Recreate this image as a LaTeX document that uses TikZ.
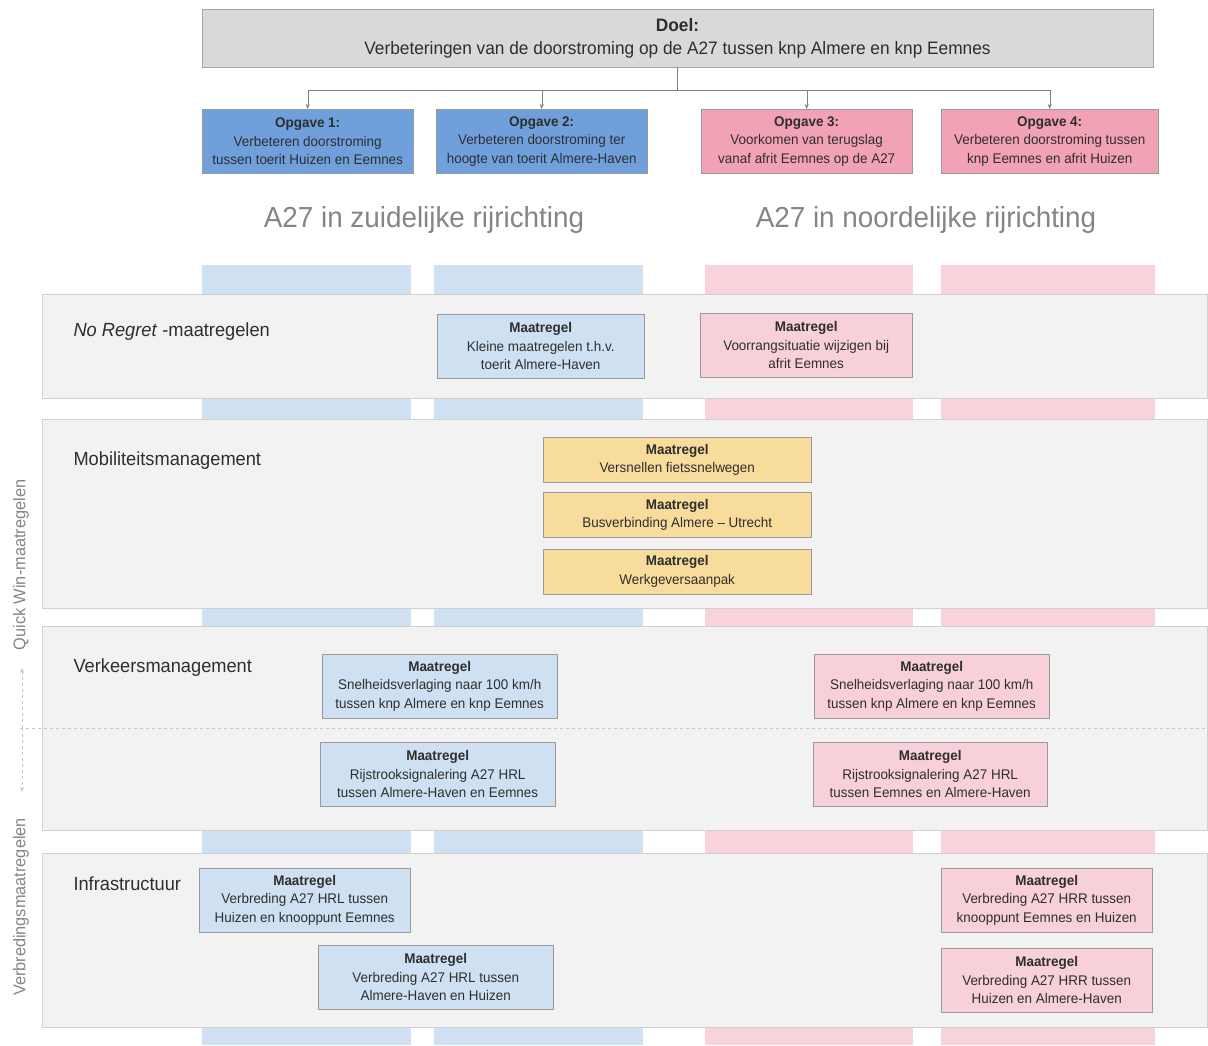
\documentclass[tikz,border=0pt]{standalone}
\usepackage{fontspec}
\setmainfont{Liberation Sans}[FakeStretch=0.96]
\usetikzlibrary{arrows.meta, positioning}

\definecolor{doelfill}{HTML}{D9D9D9}
\definecolor{doelline}{HTML}{A6A6A6}
\definecolor{opblue}{HTML}{6FA0DC}
\definecolor{oppink}{HTML}{F2A2B5}
\definecolor{stripeblue}{HTML}{CFE0F2}
\definecolor{stripepink}{HTML}{F8D3DC}
\definecolor{mblue}{HTML}{CFE0F3}
\definecolor{mpink}{HTML}{F8D0DA}
\definecolor{myellow}{HTML}{F8DC9C}
\definecolor{bandfill}{HTML}{F2F2F2}
\definecolor{bandline}{HTML}{D0D0D0}
\definecolor{boxline}{HTML}{9A9A9A}
\definecolor{textdark}{HTML}{2E2E2E}
\definecolor{headgray}{HTML}{858585}

\begin{document}
\begin{tikzpicture}[x=1pt, y=-1pt,
    doel/.style={draw=doelline, fill=doelfill, minimum width=951pt, minimum height=58pt,
                 align=center, inner sep=0pt, text=textdark, font=\fontsize{18}{23}\selectfont},
    opgave/.style={draw=boxline, minimum width=211pt, minimum height=64pt, anchor=north west,
                   align=center, inner sep=0pt, text=textdark, font=\fontsize{14}{18.5}\selectfont},
    maatregel/.style={draw=boxline, minimum width=#1, minimum height=64pt, anchor=north west,
                      align=center, inner sep=0pt, text=textdark, font=\fontsize{14}{18.5}\selectfont},
    maatregel/.default=211pt,
    mobbox/.style={maatregel=268pt, fill=myellow, minimum height=45pt},
    band/.style={draw=bandline, fill=bandfill},
    bandlabel/.style={anchor=west, text=textdark, font=\fontsize{19}{22}\selectfont},
    heading/.style={text=headgray, font=\fontsize{29}{32}\selectfont},
    axislabel/.style={rotate=90, text=headgray, font=\fontsize{17}{20}\selectfont},
    link/.style={draw=gray, -{Stealth[length=5pt, width=4pt]}}]

    \useasboundingbox (0,0) rectangle (1208,1045);

    % goal and tasks
    \node[doel] (doel) at (677.5,38) {\textbf{Doel:}\\Verbeteringen van de doorstroming op de A27 tussen knp Almere en knp Eemnes};
    \node[opgave, fill=opblue] (op1) at (202,109) {\textbf{Opgave 1:}\\Verbeteren doorstroming\\tussen toerit Huizen en Eemnes};
    \node[opgave, fill=opblue] (op2) at (436,109) {\textbf{Opgave 2:}\\Verbeteren doorstroming ter\\hoogte van toerit Almere-Haven};
    \node[opgave, fill=oppink] (op3) at (701,109) {\textbf{Opgave 3:}\\Voorkomen van terugslag\\vanaf afrit Eemnes op de A27};
    \node[opgave, fill=oppink, minimum width=217pt] (op4) at (941,109) {\textbf{Opgave 4:}\\Verbeteren doorstroming tussen\\knp Eemnes en afrit Huizen};

    \coordinate (split) at (677.5,90);
    \draw[draw=gray] (doel.south) -- (split);
    \foreach \t in {op1,op2,op3,op4}
        \draw[link] (split) -| (\t.north);

    \node[heading] (south) at (424,220) {A27 in zuidelijke rijrichting};
    \node[heading] (north) at (926,220) {A27 in noordelijke rijrichting};

    % direction stripes
    \fill[stripeblue] (202,265) rectangle (411,1045);
    \fill[stripeblue] (434,265) rectangle (643,1045);
    \fill[stripepink] (705,265) rectangle (913,1045);
    \fill[stripepink] (941,265) rectangle (1155,1045);

    % bands
    \draw[band] (42,294) rectangle (1207,398);
    \draw[band] (42,419) rectangle (1207,608);
    \draw[band] (42,626) rectangle (1207,830);
    \draw[band] (42,853) rectangle (1207,1027);

    \node[bandlabel] (noregret) at (70,332) {\textit{No Regret} -maatregelen};
    \node[bandlabel] (mobiliteit) at (70,461) {Mobiliteitsmanagement};
    \node[bandlabel] (verkeer) at (70,668) {Verkeersmanagement};
    \node[bandlabel] (infra) at (70,884) {Infrastructuur};

    % quick win / verbreding axis
    \draw[draw=gray!45, dashed] (20,728) -- (1207,728);
    \coordinate (axismid) at (22,728);
    \coordinate (axistop) at (22,668);
    \coordinate (axisbot) at (22,792);
    \draw[draw=gray!45, dashed, -{Stealth[length=5pt, width=4pt]}] (axismid) -- (axistop);
    \draw[draw=gray!45, dashed, -{Stealth[length=5pt, width=4pt]}] (axismid) -- (axisbot);
    \node[axislabel] (quickwin) at (21,565) {Quick Win-maatregelen};
    \node[axislabel] (verbreding) at (21,907) {Verbredingsmaatregelen};

    % no regret
    \node[maatregel=207pt, fill=mblue] (nr1) at (437,314) {\textbf{Maatregel}\\Kleine maatregelen t.h.v.\\toerit Almere-Haven};
    \node[maatregel=212pt, fill=mpink] (nr2) at (700,313) {\textbf{Maatregel}\\Voorrangsituatie wijzigen bij\\afrit Eemnes};

    % mobiliteitsmanagement
    \node[mobbox] (mm1) at (543,437) {\textbf{Maatregel}\\Versnellen fietssnelwegen};
    \node[mobbox, below=10pt of mm1.south west, anchor=north west] (mm2) {\textbf{Maatregel}\\Busverbinding Almere – Utrecht};
    \node[mobbox, below=11pt of mm2.south west, anchor=north west] (mm3) {\textbf{Maatregel}\\Werkgeversaanpak};

    % verkeersmanagement
    \node[maatregel=235pt, fill=mblue] (vm1) at (322,654) {\textbf{Maatregel}\\Snelheidsverlaging naar 100 km/h\\tussen knp Almere en knp Eemnes};
    \node[maatregel=235pt, fill=mpink] (vm2) at (814,654) {\textbf{Maatregel}\\Snelheidsverlaging naar 100 km/h\\tussen knp Almere en knp Eemnes};
    \node[maatregel=235pt, fill=mblue] (vm3) at (320,742) {\textbf{Maatregel}\\Rijstrooksignalering A27 HRL\\tussen Almere-Haven en Eemnes};
    \node[maatregel=234pt, fill=mpink] (vm4) at (813,742) {\textbf{Maatregel}\\Rijstrooksignalering A27 HRL\\tussen Eemnes en Almere-Haven};

    % infrastructuur
    \node[maatregel=211pt, fill=mblue] (inf1) at (199,868) {\textbf{Maatregel}\\Verbreding A27 HRL tussen\\Huizen en knooppunt Eemnes};
    \node[maatregel=235pt, fill=mblue] (inf2) at (318,945) {\textbf{Maatregel}\\Verbreding A27 HRL tussen\\Almere-Haven en Huizen};
    \node[maatregel=211pt, fill=mpink] (inf3) at (941,868) {\textbf{Maatregel}\\Verbreding A27 HRR tussen\\knooppunt Eemnes en Huizen};
    \node[maatregel=211pt, fill=mpink] (inf4) at (941,948) {\textbf{Maatregel}\\Verbreding A27 HRR tussen\\Huizen en Almere-Haven};
\end{tikzpicture}
\end{document}
